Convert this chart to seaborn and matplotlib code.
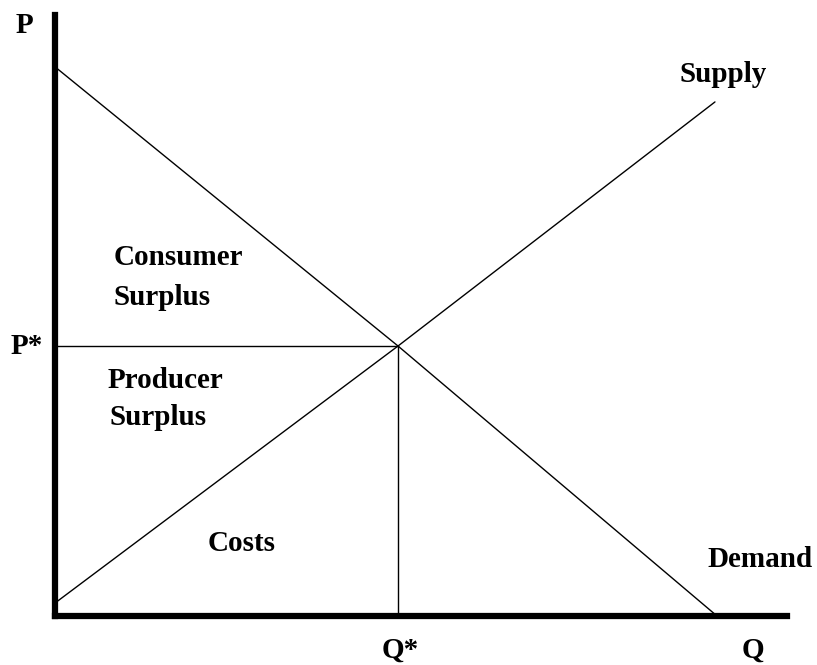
import matplotlib
matplotlib.use("Agg")
import matplotlib.pyplot as plt
import seaborn as sns
import pandas as pd

# curve endpoints (Q, P)
demand_q = [0.0, 5.0, 9.65]
demand_p = [10.17, 5.0, 0.0]
supply_q = [0.0, 5.0, 9.62]
supply_p = [0.24, 5.0, 9.52]

# equilibrium
q_star = 5.0
p_star = 5.0

x_max = 10.67
y_max = 11.13

sns.set_theme(style="white")
plt.rcParams['font.family'] = ['Liberation Serif', 'DejaVu Serif']

fig = plt.figure(figsize=(8.17, 6.65), dpi=100)
ax = fig.add_axes([55 / 817, 49 / 665, 732 / 817, 601 / 665])

curves = pd.concat([
    pd.DataFrame({'Q': demand_q, 'P': demand_p, 'curve': 'Demand'}),
    pd.DataFrame({'Q': supply_q, 'P': supply_p, 'curve': 'Supply'}),
])
sns.lineplot(data=curves, x='Q', y='P', hue='curve', palette={'Demand': 'black', 'Supply': 'black'},
             linewidth=1.0, legend=False, sort=False, estimator=None, ax=ax)

# equilibrium guide lines
ax.plot([0, q_star], [p_star, p_star], color='black', linewidth=1.0)
ax.plot([q_star, q_star], [0, p_star], color='black', linewidth=1.0)

ax.set_xlim(0, x_max)
ax.set_ylim(0, y_max)
ax.set_xticks([])
ax.set_yticks([])
ax.set_xlabel('')
ax.set_ylabel('')
for side in ['top', 'right']:
    ax.spines[side].set_visible(False)
for side in ['left', 'bottom']:
    ax.spines[side].set_color('black')
    ax.spines[side].set_linewidth(4.5)
    ax.spines[side].set_capstyle('projecting')

txt = dict(fontsize=21, fontweight='bold', color='black', clip_on=False)
ax.text(-0.44, 10.94, 'P', ha='center', va='center', **txt)
ax.text(-0.41, p_star, 'P*', ha='center', va='center', **txt)
ax.text(q_star + 0.03, -0.63, 'Q*', ha='center', va='center', **txt)
ax.text(10.17, -0.63, 'Q', ha='center', va='center', **txt)
ax.text(9.74, 10.02, 'Supply', ha='center', va='center', **txt)
ax.text(10.28, 1.04, 'Demand', ha='center', va='center', **txt)
ax.text(0.85, 6.63, 'Consumer', ha='left', va='center', **txt)
ax.text(0.85, 5.89, 'Surplus', ha='left', va='center', **txt)
ax.text(0.76, 4.37, 'Producer', ha='left', va='center', **txt)
ax.text(0.80, 3.67, 'Surplus', ha='left', va='center', **txt)
ax.text(2.23, 1.35, 'Costs', ha='left', va='center', **txt)

fig.savefig('out.png', dpi=100)
plt.close(fig)
